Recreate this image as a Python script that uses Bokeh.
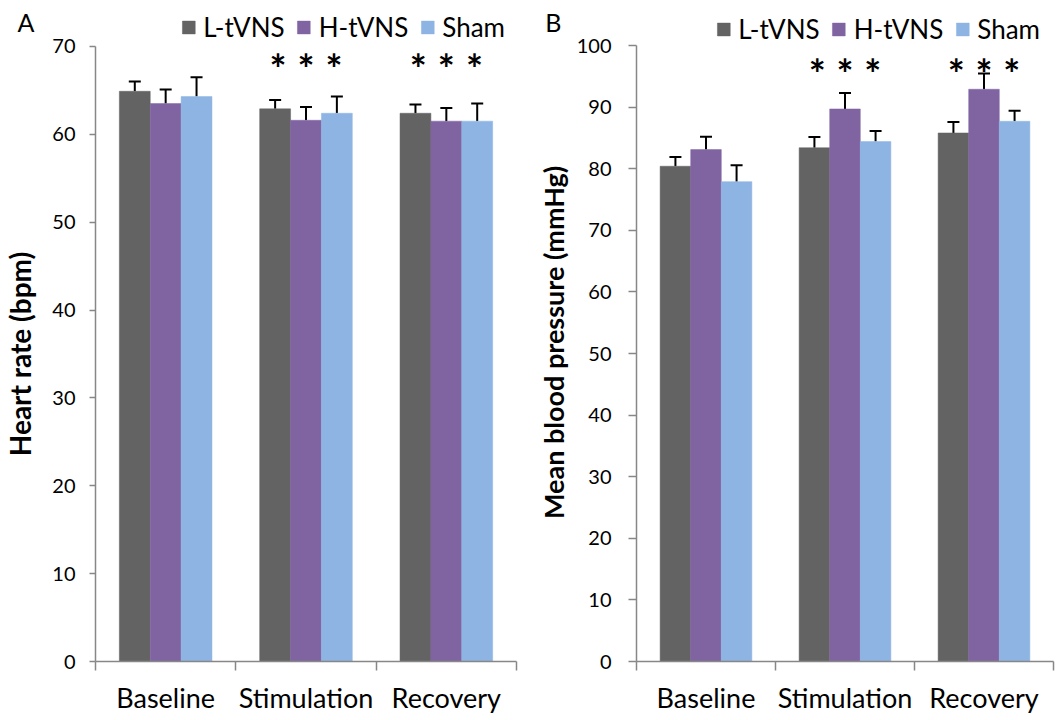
from bokeh.plotting import figure
from bokeh.models import (ColumnDataSource, FixedTicker, Range1d, Whisker, TeeHead,
                          Legend, LegendItem, LinearAxis)
from bokeh.layouts import row
from bokeh.embed import file_html
from bokeh.resources import INLINE
from bokeh.core.properties import value

# ---- data -------------------------------------------------------------
phases = ["Baseline", "Stimulation", "Recovery"]
groups = ["L-tVNS", "H-tVNS", "Sham"]
colors = ["#636363", "#8064A2", "#8EB4E3"]

# Panel A: heart rate (bpm), mean and SEM per phase
hr_l = [64.9, 62.9, 62.4]
hr_h = [63.5, 61.6, 61.5]
hr_sham = [64.3, 62.4, 61.5]
hr_l_err = [1.1, 1.0, 1.0]
hr_h_err = [1.6, 1.5, 1.5]
hr_sham_err = [2.2, 1.9, 2.0]

# Panel B: mean blood pressure (mmHg), mean and SEM per phase
bp_l = [80.4, 83.4, 85.8]
bp_h = [83.1, 89.7, 92.9]
bp_sham = [77.9, 84.4, 87.7]
bp_l_err = [1.5, 1.75, 1.8]
bp_h_err = [2.1, 2.6, 2.55]
bp_sham_err = [2.65, 1.7, 1.7]

# significance vs baseline, per phase
significant = [False, True, True]

y_ticks_hr = list(range(0, 71, 10))
y_ticks_bp = list(range(0, 101, 10))

FONT = "Lato"
AXIS_GREY = "#878787"
BAR_W = 0.22


def text_axis(y, text, standoff, size, bold=False, vertical=False):
    """A bare left axis whose single tick label carries a piece of text."""
    ax = LinearAxis(ticker=FixedTicker(ticks=[y], minor_ticks=[]),
                    major_label_overrides={y: text},
                    axis_line_color=None, major_tick_line_color=None,
                    minor_tick_line_color=None, major_tick_out=0,
                    major_tick_in=0, major_label_standoff=standoff,
                    major_label_text_font=FONT,
                    major_label_text_font_size=size,
                    major_label_text_font_style="bold" if bold else "normal",
                    major_label_text_color="black")
    if vertical:
        ax.major_label_orientation = "vertical"
    return ax


def make_panel(letter, y_title, means, errs, yticks, y_top, star_y,
               width, border_left, border_right, tick_out, label_standoff,
               title_y, title_size, title_standoff, letter_y, letter_standoff,
               legend_margin):
    p = figure(width=width, height=720, x_range=Range1d(0, 3),
               y_range=Range1d(0, y_top), output_backend="svg",
               toolbar_location=None, min_border_left=border_left,
               min_border_right=border_right, min_border_top=0,
               min_border_bottom=59)
    p.outline_line_color = None
    p.xgrid.visible = False
    p.ygrid.visible = False

    renderers = []
    for gi, (col, vals, ev) in enumerate(zip(colors, means, errs)):
        xs = [i + 0.5 + (gi - 1) * BAR_W for i in range(len(phases))]
        src = ColumnDataSource(dict(x=xs, top=vals,
                                    upper=[v + e for v, e in zip(vals, ev)]))
        r = p.vbar(x="x", top="top", bottom=0, width=BAR_W, source=src,
                   fill_color=col, line_color=col, line_width=0.5)
        renderers.append(r)
        p.add_layout(Whisker(source=src, base="x", lower="top", upper="upper",
                             line_color="black", line_width=2, lower_head=None,
                             upper_head=TeeHead(size=12, line_color="black",
                                                line_width=2)))
        star_x = [i + 0.5 + (gi - 1) * 0.2 for i, s in enumerate(significant) if s]
        p.text(x=star_x, y=[star_y] * len(star_x), text=["*"] * len(star_x),
               text_font=value(FONT), text_font_style="bold",
               text_font_size="40px", text_align="center",
               text_baseline="middle", text_color="black")

    # x axis: category labels centred, ticks on the category boundaries
    xa = p.xaxis[0]
    xa.ticker = FixedTicker(ticks=[i + 0.5 for i in range(len(phases))],
                            minor_ticks=list(range(len(phases) + 1)))
    xa.major_label_overrides = {i + 0.5: ph for i, ph in enumerate(phases)}
    xa.major_tick_out = 0
    xa.major_tick_in = 0
    xa.minor_tick_out = 9
    xa.minor_tick_in = 0
    xa.axis_line_color = AXIS_GREY
    xa.axis_line_width = 1.5
    xa.minor_tick_line_color = AXIS_GREY
    xa.minor_tick_line_width = 1.5
    xa.major_label_text_font = FONT
    xa.major_label_text_font_size = "27px"
    xa.major_label_text_color = "black"
    xa.major_label_standoff = 10

    # y axis: numeric scale only up to the last tick
    ya = p.yaxis[0]
    ya.ticker = FixedTicker(ticks=yticks, minor_ticks=[])
    ya.bounds = (0, yticks[-1])
    ya.major_tick_out = tick_out
    ya.major_tick_in = 0
    ya.axis_line_color = AXIS_GREY
    ya.axis_line_width = 1.5
    ya.major_tick_line_color = AXIS_GREY
    ya.major_tick_line_width = 1.5
    ya.major_label_text_font = FONT
    ya.major_label_text_font_size = "20px"
    ya.major_label_text_color = "black"
    ya.major_label_standoff = label_standoff

    # y title and panel letter on bare outer axes
    p.add_layout(text_axis(title_y, y_title, title_standoff, title_size,
                           bold=True, vertical=True), "left")
    p.add_layout(text_axis(letter_y, letter, letter_standoff, "25px"), "left")

    legend = Legend(items=[LegendItem(label=g, renderers=[r])
                           for g, r in zip(groups, renderers)],
                    orientation="horizontal", location="top_right",
                    glyph_width=16, glyph_height=16, label_standoff=7,
                    spacing=11, padding=0, margin=legend_margin,
                    label_text_font=FONT, label_text_font_size="26px",
                    label_text_color="black",
                    label_height=26, border_line_color=None,
                    background_fill_alpha=0)
    p.add_layout(legend, "center")
    return p


pa = make_panel("A", "Heart rate (bpm)",
                [hr_l, hr_h, hr_sham], [hr_l_err, hr_h_err, hr_sham_err],
                y_ticks_hr, 661 / 8.786, 67.4,
                531, 93, 15, 6, 14,
                35.0, "28px", 12, 72.8, -34, 11)
pb = make_panel("B", "Mean blood pressure (mmHg)",
                [bp_l, bp_h, bp_sham], [bp_l_err, bp_h_err, bp_sham_err],
                y_ticks_bp, 661 / 6.16, 95.45,
                532, 105, 10, 8, 17,
                51.8, "27px", 3, 103.8, -27, 13)

layout = row(pa, pb)
open("out.html", "w").write(file_html(layout, INLINE))
